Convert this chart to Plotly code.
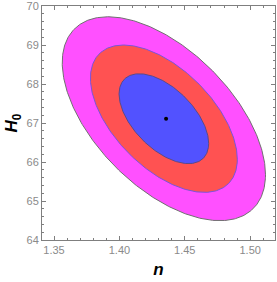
import numpy as np
import plotly.graph_objects as go

# ---- data ----
best_fit_n = [1.4357]
best_fit_H0 = [67.11]
contour_center = [1.4340, 67.11]          # centre of the confidence ellipses (n, H0)
sigma_n = 0.0226
sigma_H0 = 0.760
rho = -0.55
delta_chi2 = [11.83, 6.18, 2.30]          # 3σ, 2σ, 1σ for 2 parameters
fill_colors = ["#ff50ff", "#ff5252", "#5252ff"]
edge_colors = ["#707070", "#7a55d8", "#5a4a8a"]
x_ticks = [1.35, 1.40, 1.45, 1.50]
y_ticks = [64, 65, 66, 67, 68, 69, 70]

fig = go.Figure()

cov = np.array([[sigma_n**2, rho*sigma_n*sigma_H0],
                [rho*sigma_n*sigma_H0, sigma_H0**2]])
L = np.linalg.cholesky(cov)
t = np.linspace(0, 2*np.pi, 400)
circle = np.vstack([np.cos(t), np.sin(t)])
for d, fc, ec in zip(delta_chi2, fill_colors, edge_colors):
    pts = (L @ circle) * np.sqrt(d)
    fig.add_trace(go.Scatter(
        x=pts[0] + contour_center[0], y=pts[1] + contour_center[1],
        mode="lines", fill="toself", fillcolor=fc,
        line=dict(color=ec, width=1), hoverinfo="skip", showlegend=False))

fig.add_trace(go.Scatter(x=best_fit_n, y=best_fit_H0, mode="markers",
                         marker=dict(color="black", size=4), showlegend=False))

axis_common = dict(
    showgrid=False, zeroline=False, showline=True, linecolor="#7f7f7f", linewidth=1,
    mirror="allticks", ticks="inside", ticklen=4, tickcolor="#7f7f7f",
    tickfont=dict(family="Liberation Sans, Arial", size=11, color="#8a8a8a"),
    automargin=False, ticklabeloverflow="allow",
)
fig.update_xaxes(range=[1.3408, 1.5190], tickvals=x_ticks,
                 ticktext=[f"{v:.2f}" for v in x_ticks],
                 minor=dict(dtick=0.01, ticks="inside", ticklen=2, tickcolor="#7f7f7f"),
                 title=dict(text="<b><i>n</i></b>", standoff=7,
                            font=dict(family="Liberation Sans, Arial", size=17, color="black")),
                 **axis_common)
fig.update_yaxes(range=[64, 70], tickvals=y_ticks,
                 minor=dict(dtick=0.2, ticks="inside", ticklen=2, tickcolor="#7f7f7f"),
                 title=dict(text="<b><i>H</i><sub>0</sub></b>", standoff=4,
                            font=dict(family="Liberation Sans, Arial", size=17, color="black")),
                 **axis_common)
fig.update_layout(width=277, height=282, margin=dict(l=42, r=2, t=6, b=42),
                  plot_bgcolor="white", paper_bgcolor="white")
fig.write_html("out.html", config={"displayModeBar": False},
               post_script="document.body.style.margin='0';")
